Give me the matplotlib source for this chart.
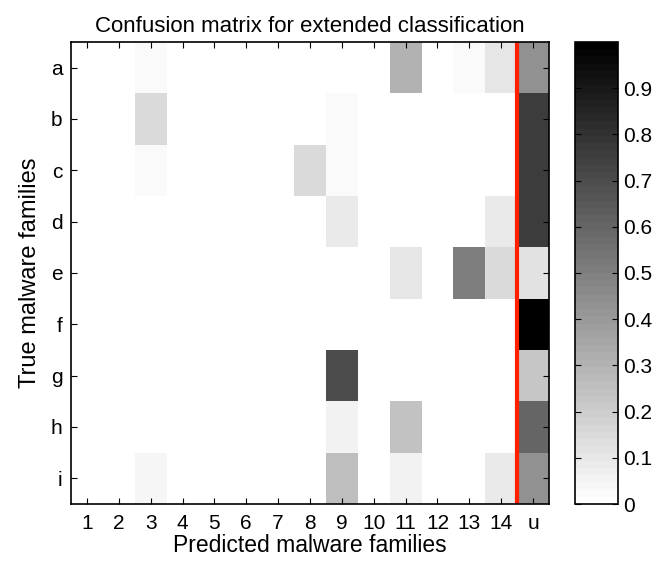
import numpy as np
import matplotlib
matplotlib.use("Agg")
from matplotlib import pyplot as plt

plt.rcParams['font.family'] = ['Liberation Sans', 'DejaVu Sans']

true_labels = ['a', 'b', 'c', 'd', 'e', 'f', 'g', 'h', 'i']
pred_labels = ['1', '2', '3', '4', '5', '6', '7', '8', '9', '10', '11', '12', '13', '14', 'u']

# rows = true family, cols = predicted family (last col = unknown)
row_a = [0, 0, 0.02, 0, 0, 0, 0, 0, 0, 0, 0.31, 0, 0.02, 0.10, 0.43]
row_b = [0, 0, 0.15, 0, 0, 0, 0, 0, 0.03, 0, 0, 0, 0, 0, 0.75]
row_c = [0, 0, 0.02, 0, 0, 0, 0, 0.15, 0.02, 0, 0, 0, 0, 0, 0.75]
row_d = [0, 0, 0, 0, 0, 0, 0, 0, 0.08, 0, 0, 0, 0, 0.08, 0.76]
row_e = [0, 0, 0, 0, 0, 0, 0, 0, 0, 0, 0.10, 0, 0.50, 0.15, 0.11]
row_f = [0, 0, 0, 0, 0, 0, 0, 0, 0, 0, 0, 0, 0, 0, 1.00]
row_g = [0, 0, 0, 0, 0, 0, 0, 0, 0.70, 0, 0, 0, 0, 0, 0.22]
row_h = [0, 0, 0, 0, 0, 0, 0, 0, 0.06, 0, 0.24, 0, 0, 0, 0.60]
row_i = [0, 0, 0.04, 0, 0, 0, 0, 0, 0.25, 0, 0.06, 0, 0, 0.08, 0.43]

cm = np.array([row_a, row_b, row_c, row_d, row_e, row_f, row_g, row_h, row_i])

fig = plt.figure(figsize=(6.57, 5.62), dpi=100)
ax = fig.add_axes([71/657, 1 - 504/562, 478/657, 462/562])
cax = fig.add_axes([575/657, 1 - 504/562, 43/657, 462/562])

cmap = plt.get_cmap('gray_r', 64)
im = ax.imshow(cm, cmap=cmap, vmin=0, vmax=1, aspect='auto', interpolation='nearest')
ax.axvline(len(pred_labels) - 1.5, color='#ff2000', linewidth=3)

ax.set_xticks(range(len(pred_labels)))
ax.set_xticklabels(pred_labels)
ax.set_yticks(range(len(true_labels)))
ax.set_yticklabels(true_labels)
ax.tick_params(axis='x', direction='in', top=True, length=4, labelsize=15, pad=7)
ax.tick_params(axis='y', direction='in', right=True, length=4, labelsize=15, pad=6)
ax.set_xlabel('Predicted malware families', fontsize=16.5, labelpad=1)
ax.set_ylabel('True malware families', fontsize=17, labelpad=7)
ax.set_title('Confusion matrix for extended classification', fontsize=16, pad=7)

cb = fig.colorbar(im, cax=cax)
cb.set_ticks([0, 0.1, 0.2, 0.3, 0.4, 0.5, 0.6, 0.7, 0.8, 0.9])
cb.set_ticklabels(['0', '0.1', '0.2', '0.3', '0.4', '0.5', '0.6', '0.7', '0.8', '0.9'])
cb.ax.tick_params(direction='in', left=True, right=True, length=4, labelsize=15, pad=4)
cb.outline.set_linewidth(1.2)
for s in ax.spines.values():
    s.set_linewidth(1.2)

fig.savefig('out.png', dpi=100)
